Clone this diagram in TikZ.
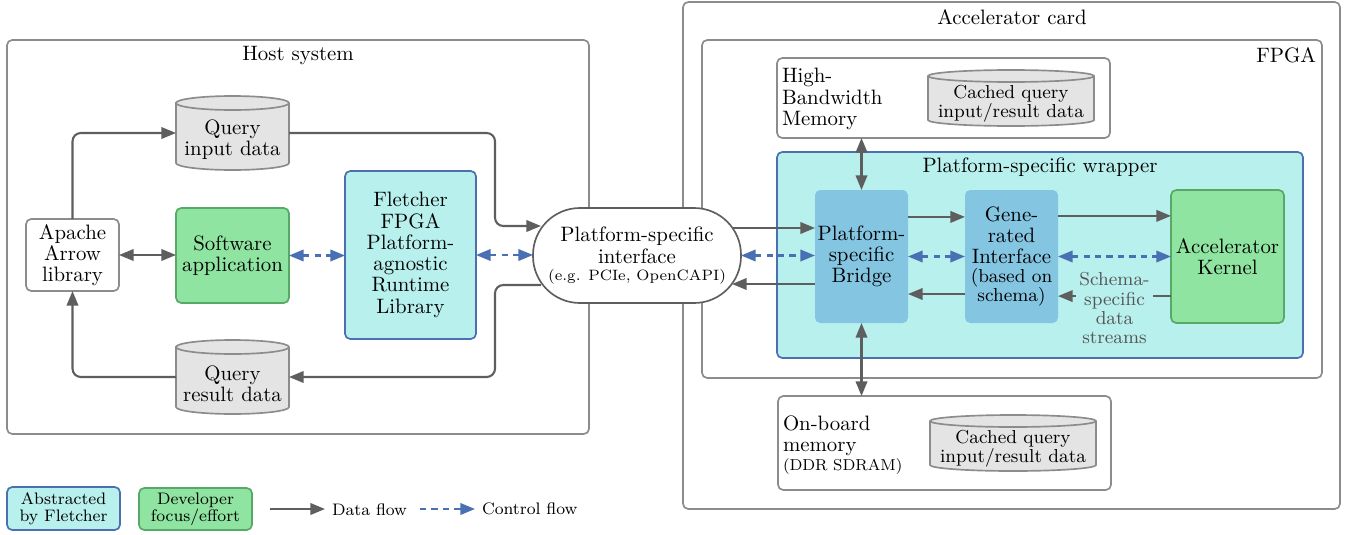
\documentclass[tikz,border=0pt]{standalone}
\usetikzlibrary{arrows.meta,calc}
\definecolor{grayline}{HTML}{5E5E5E}
\definecolor{boxgray}{HTML}{8C8C8C}
\definecolor{cyanfill}{HTML}{B8F0EE}
\definecolor{bluestroke}{HTML}{4A70B0}
\definecolor{bridgefill}{HTML}{84C5E2}
\definecolor{greenfill}{HTML}{8EE4A0}
\definecolor{greenstroke}{HTML}{58A868}
\definecolor{cylfill}{HTML}{E4E4E4}
\definecolor{dashblue}{HTML}{4A70B4}
\definecolor{labelgray}{HTML}{555555}
\newcommand{\smallf}{\fontsize{9}{9.2}\selectfont}
\newcommand{\footf}{\fontsize{8}{8.2}\selectfont}
\newcommand{\tinyf}{\fontsize{7.2}{8}\selectfont}
\newcommand{\ddrf}{\fontsize{7.6}{8}\selectfont}
\newcommand{\boxnode}[7]{\node[#1, minimum width={(#5-#3)*0.48pt}, minimum height={(#6-#4)*0.48pt}] (#2) at ({(#3+#5)/2},{-(#4+#6)/2}) {#7};}
\newcommand{\cylnode}[8]{%
  \pgfmathsetmacro{\cylrx}{(#4-#2)/2*0.48}%
  \pgfmathsetmacro{\cylry}{#6*0.48}%
  \filldraw[cyl] (#2,{-(#3+#6)}) -- (#2,{-(#5-#6)}) arc[start angle=180,end angle=360,x radius=\cylrx pt,y radius=\cylry pt] -- (#4,{-(#3+#6)}) arc[start angle=0,end angle=180,x radius=\cylrx pt,y radius=\cylry pt] -- cycle;
  \draw[cyl] (#2,{-(#3+#6)}) arc[start angle=180,end angle=360,x radius=\cylrx pt,y radius=\cylry pt];
  \node[minimum width={(#4-#2)*0.48pt}, minimum height={(#5-#3)*0.48pt}] (#1) at ({(#2+#4)/2},{-(#3+#5)/2}) {};
  \node[txt, font=#8] (#1-t) at ({(#2+#4)/2},{-(#3+2*#6+#5)/2}) {#7};
}
\begin{document}
\begin{tikzpicture}[x=0.48pt,y=0.48pt,
  every node/.style={inner sep=0pt, outer sep=0pt},
  txt/.style={font=\fontsize{10}{10.2}\selectfont, align=center},
  container/.style={draw=boxgray, line width=0.8pt, rounded corners=2.5pt},
  plainbox/.style={txt, draw=boxgray, line width=0.8pt, rounded corners=2.5pt, fill=white},
  greenbox/.style={txt, draw=greenstroke, line width=0.8pt, rounded corners=2.5pt, fill=greenfill},
  cyanbox/.style={txt, draw=bluestroke, line width=0.8pt, rounded corners=2.5pt, fill=cyanfill},
  bluebox/.style={txt, fill=bridgefill, rounded corners=2.5pt},
  pill/.style={txt, draw=grayline, line width=0.8pt, fill=white, rounded corners=22.5pt},
  cyl/.style={draw=boxgray, fill=cylfill, line width=0.8pt},
  data/.style={draw=grayline, line width=1pt, -{Triangle[length=7pt,width=5.5pt]}},
  data2/.style={draw=grayline, line width=1pt, {Triangle[length=7pt,width=5.5pt]}-{Triangle[length=7pt,width=5.5pt]}},
  ctrl/.style={draw=dashblue, line width=1pt, dash pattern=on 3pt off 2.5pt, {Triangle[length=7pt,width=5.5pt]}-{Triangle[length=7pt,width=5.5pt]}},
  ctrl1/.style={draw=dashblue, line width=1pt, dash pattern=on 3pt off 2.5pt, -{Triangle[length=7pt,width=5.5pt]}},
  title/.style={txt}
]
\useasboundingbox (0,0) rectangle (1350,-534);

% containers
\draw[container] (7,-40) rectangle (589,-434);
\node[title] (hosttitle) at (298,-55.5) {Host system};
\draw[container] (683,-2) rectangle (1340,-509);
\node[title] (acctitle) at (1012,-17) {Accelerator card};
\draw[container] (702,-40) rectangle (1322,-378);
\node[title, anchor=east] (fpgatitle) at (1316,-55) {FPGA};

% HBM
\boxnode{plainbox}{hbm}{777}{58}{1110}{138}{}
\node[txt, align=left, anchor=west] (hbmt) at (782,-99) {High-\\Bandwidth\\Memory};
\cylnode{hbmc}{928}{70}{1094}{126}{6}{Cached query\\input/result data}{\smallf}

% On-board
\boxnode{plainbox}{obm}{778}{396}{1111}{490}{}
\node[txt, align=left, anchor=west] (obmt) at (783,-445) {On-board\\memory\\[-1.2pt]\ddrf (DDR SDRAM)};
\cylnode{obmc}{930}{415}{1096}{471}{6}{Cached query\\input/result data}{\smallf}

% wrapper
\draw[draw=bluestroke, fill=cyanfill, line width=0.8pt, rounded corners=2.5pt] (777,-152) rectangle (1303,-358);
\node[title] (wraptitle) at (1040,-167) {Platform-specific wrapper};
\boxnode{bluebox}{bridge}{815}{190}{908}{323}{Platform-\\specific\\Bridge}
\boxnode{bluebox}{gen}{965}{190}{1058}{323}{Gene-\\rated\\Interface\\[-1pt]\smallf (based on\\[-1pt]\smallf schema)}
\boxnode{greenbox}{kernel}{1171}{190}{1284}{323}{Accelerator\\Kernel}

% host
\boxnode{plainbox}{arrowlib}{26}{219}{119}{291}{Apache\\Arrow\\library}
\boxnode{greenbox}{sw}{176}{208}{289}{303}{Software\\application}
\boxnode{cyanbox}{rt}{345}{171}{476}{339}{Fletcher\\FPGA\\Platform-\\agnostic\\Runtime\\Library}
\cylnode{qin}{176}{96}{289}{170}{7}{Query\\input data}{\fontsize{10}{10.2}\selectfont}
\cylnode{qres}{176}{340}{289}{414}{7}{Query\\result data}{\fontsize{10}{10.2}\selectfont}

% interface
\boxnode{pill}{iface}{533}{208}{741}{303}{Platform-specific\\interface\\[-2pt]\tinyf (e.g. PCIe, OpenCAPI)}
\coordinate (ifin) at (541,-226);
\coordinate (ifout) at (541,-285);
\coordinate (ifr1) at (732,-228);
\coordinate (ifr2) at (732,-284);
\coordinate (busx) at (495,0);

% host connectors
\draw[data, rounded corners=4pt] (arrowlib.north) |- (qin.west);
\draw[data, rounded corners=4pt] (qin.east) -| (busx |- ifin) -- (ifin);
\draw[data, rounded corners=4pt] (ifout) -| (busx |- qres.east) -- (qres.east);
\draw[data, rounded corners=4pt] (qres.west) -| (arrowlib.south);
\draw[data2] (arrowlib.east) -- (arrowlib.east -| sw.west);
\draw[ctrl] (sw.east) -- (sw.east -| rt.west);
\draw[ctrl] (rt.east) -- (rt.east -| iface.west);

% interface <-> bridge
\draw[data] (ifr1) -- (ifr1 -| bridge.west);
\draw[ctrl] (iface.east) -- (iface.east -| bridge.west);
\draw[data] (ifr2 -| bridge.west) -- (ifr2);

% wrapper internals
\draw[data] ([yshift=19pt]bridge.east) -- ([yshift=19pt]gen.west);
\draw[data] ([yshift=19.5pt]gen.east) -- ([yshift=19.5pt]kernel.west);
\draw[ctrl] (bridge.east) -- (gen.west);
\draw[ctrl] (gen.east) -- (gen.east -| kernel.west);
\draw[data] ([yshift=-18pt]gen.west) -- ([yshift=-18pt]bridge.east);
\draw[data] ([yshift=-19pt]kernel.west) -- node[txt, font=\smallf, fill=cyanfill, inner sep=1.5pt, yshift=-5.8pt, text=labelgray] (schemalbl) {Schema-\\specific\\data\\streams} ([yshift=-19pt]gen.east);

% memory links
\draw[data2] (bridge.north |- hbm.south) -- (bridge.north);
\draw[data2] (bridge.south) -- (bridge.south |- obm.north);

% legend
\boxnode{cyanbox, font=\footf}{lgA}{7}{487}{120}{530}{Abstracted\\by Fletcher}
\boxnode{greenbox, font=\footf}{lgB}{139}{488}{252}{530}{Developer\\focus/effort}
\coordinate (ld1) at (270,-509);
\coordinate (ld2) at (325,-509);
\coordinate (lc1) at (420,-509);
\coordinate (lc2) at (475,-509);
\draw[data] (ld1) -- (ld2);
\node[txt, font=\footf, anchor=west] (ldt) at (332,-510) {Data flow};
\draw[ctrl1] (lc1) -- (lc2);
\node[txt, font=\footf, anchor=west] (lct) at (482,-509) {Control flow};
\end{tikzpicture}
\end{document}
